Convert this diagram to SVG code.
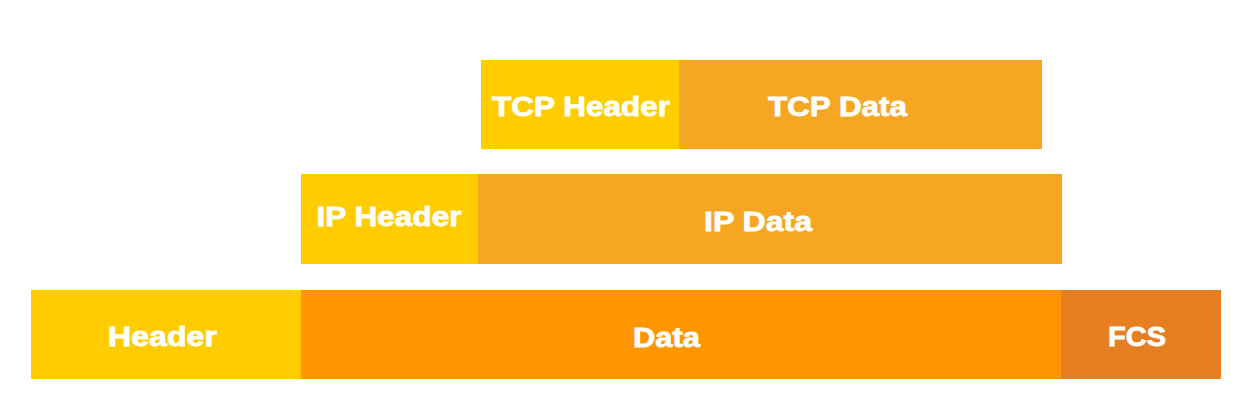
<svg xmlns="http://www.w3.org/2000/svg" width="1249" height="414" viewBox="0 0 1249 414">
<style>
.t{font-family:"Liberation Sans",Arial,sans-serif;font-weight:bold;font-size:27.5px;fill:#fff;stroke:#fff;stroke-width:0.8px;text-anchor:middle}
.hdr{fill:#FFCC00}.dat{fill:#F5A623}.frame{fill:#FF9500}.fcs{fill:#E67E22}
</style>
<rect width="1249" height="414" fill="#fff"/>
<g id="tcp-header"><rect class="hdr" x="481" y="60" width="198" height="89"/><text class="t" x="581" y="115.5" textLength="178" lengthAdjust="spacingAndGlyphs">TCP Header</text></g>
<g id="tcp-data"><rect class="dat" x="679" y="60" width="363" height="89"/><text class="t" x="837.5" y="115.5" textLength="139" lengthAdjust="spacingAndGlyphs">TCP Data</text></g>
<g id="ip-header"><rect class="hdr" x="301" y="174" width="177" height="90"/><text class="t" x="389" y="226" textLength="145" lengthAdjust="spacingAndGlyphs">IP Header</text></g>
<g id="ip-data"><rect class="dat" x="478" y="174" width="584" height="90"/><text class="t" x="758" y="231" textLength="108" lengthAdjust="spacingAndGlyphs">IP Data</text></g>
<g id="header"><rect class="hdr" x="31" y="290" width="270" height="89"/><text class="t" x="162.5" y="345.5" textLength="109" lengthAdjust="spacingAndGlyphs">Header</text></g>
<g id="data"><rect class="frame" x="301" y="290" width="760" height="89"/><text class="t" x="666.5" y="346.5" textLength="67" lengthAdjust="spacingAndGlyphs">Data</text></g>
<g id="fcs"><rect class="fcs" x="1061" y="290" width="160" height="89"/><text class="t" x="1137" y="346" textLength="58" lengthAdjust="spacingAndGlyphs">FCS</text></g>
<g id="connectors"></g>
</svg>
